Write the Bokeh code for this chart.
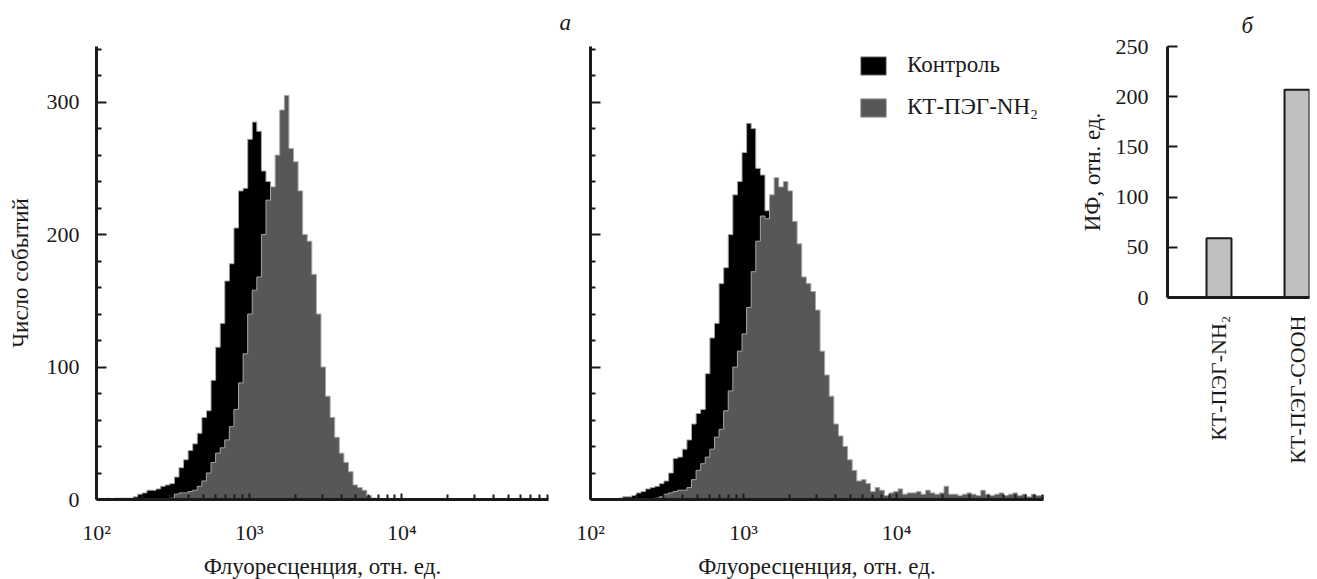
import math
from bokeh.plotting import figure
from bokeh.layouts import row
from bokeh.models import Range1d, FixedTicker, Legend, LegendItem
from bokeh.embed import file_html
from bokeh.resources import INLINE

# ---------------- data ----------------
LOG_START = 2.0      # first bin left edge, log10 units
LOG_STEP = 0.03      # bin width, log10 units

control_left = [0, 0, 1, 0, 1, 1, 1, 1, 2, 4,
                5, 7, 7, 8, 10, 11, 12, 17, 24, 30,
                37, 42, 50, 62, 67, 90, 115, 133, 165, 178,
                205, 233, 235, 272, 285, 278, 248, 240, 215, 190,
                160, 130, 100, 75, 55, 38, 25, 15, 8, 4,
                1, 0, 0, 0, 0, 0, 0, 0, 0, 0,
                0, 0]
nh2_left = [0, 0, 0, 0, 0, 0, 0, 0, 0, 0,
            0, 0, 0, 0, 0, 0, 1, 4, 5, 5,
            6, 7, 10, 14, 20, 28, 35, 39, 45, 55,
            68, 88, 110, 140, 158, 168, 200, 226, 236, 260,
            294, 305, 265, 255, 233, 200, 195, 170, 140, 100,
            78, 62, 47, 35, 28, 21, 11, 9, 7, 3,
            1, 0]
control_right = [0, 0, 0, 0, 0, 0, 1, 2, 2, 3,
                 5, 6, 8, 9, 10, 12, 14, 20, 31, 32,
                 38, 45, 57, 65, 68, 95, 122, 133, 163, 175,
                 200, 230, 240, 262, 284, 280, 250, 245, 218, 185,
                 160, 125, 100, 75, 55, 38, 25, 15, 8, 4,
                 1, 0, 0, 0, 0, 0, 0, 0, 0, 0]
nh2_right = [0, 0, 0, 0, 0, 0, 0, 0, 0, 0,
             0, 0, 0, 0, 1, 2, 4, 5, 6, 7,
             7, 9, 15, 22, 27, 32, 38, 47, 53, 67,
             82, 100, 112, 125, 145, 172, 195, 214, 212, 230,
             243, 236, 240, 233, 210, 193, 168, 163, 157, 143,
             112, 94, 78, 57, 48, 40, 30, 22, 14, 15,
             12, 6, 9, 7, 3, 5, 6, 8, 4, 5,
             5, 6, 4, 7, 5, 4, 5, 10, 4, 4,
             3, 4, 5, 4, 3, 7, 4, 3, 4, 5,
             3, 4, 5, 3, 4, 2, 4, 3, 3]

x_tick_values = [100, 1000, 10000]
x_tick_labels = ["10²", "10³", "10⁴"]
y_tick_values = [0, 100, 200, 300]
legend_labels = ["Контроль", "КТ-ПЭГ-NH₂"]

bar_categories = ["КТ-ПЭГ-NH₂", "КТ-ПЭГ-COOH"]
bar_values = [59, 207]
bar_ticks = [0, 50, 100, 150, 200, 250]

panel_letters = ["а", "б"]

# ---------------- style ----------------
FONT = "Liberation Serif"
FS_TICK = "22px"
FS_LAB = "23px"
AXC = "#1a1a1a"
BLACK = "#000000"
GRAY = "#575757"
EDGE = "#a6a6a6"

TOP = 46
BOTTOM = 80


def stairs(counts):
    edges = [10 ** (LOG_START + LOG_STEP * k) for k in range(len(counts) + 1)]
    xs, ys = [edges[0]], [0]
    for k, c in enumerate(counts):
        xs += [edges[k], edges[k + 1]]
        ys += [c, c]
    xs.append(edges[-1])
    ys.append(0)
    return xs, ys


def style_common(p):
    p.grid.visible = False
    p.outline_line_color = None
    p.background_fill_color = "white"
    p.border_fill_color = "white"
    for ax in (p.xaxis[0], p.yaxis[0]):
        ax.axis_line_color = AXC
        ax.axis_line_width = 3
        ax.major_tick_line_color = AXC
        ax.minor_tick_line_color = AXC
        ax.major_tick_line_width = 2
        ax.minor_tick_line_width = 2
        ax.major_tick_out = 0
        ax.minor_tick_out = 0
        ax.major_label_text_font = FONT
        ax.major_label_text_font_size = FS_TICK
        ax.major_label_text_color = AXC
        ax.axis_label_text_font = FONT
        ax.axis_label_text_font_size = FS_LAB
        ax.axis_label_text_font_style = "normal"
        ax.axis_label_text_color = AXC


def style_letter(p, letter, offset, standoff):
    p.title.text = letter
    p.title.align = "left"
    p.title.vertical_align = "top"
    p.title.offset = offset
    p.title.standoff = standoff
    p.title.text_font = FONT
    p.title.text_font_size = FS_LAB
    p.title.text_font_style = "italic"
    p.title.text_font_style = "italic"
    p.title.text_color = AXC


x_minor = [m * 10 ** e for e in (2, 3, 4) for m in range(2, 10)]
y_minor = [v for v in range(20, 341, 20) if v % 100]


def hist_fig(border_left, frame_w, border_right, ctrl, nh2, show_ylab):
    p = figure(x_axis_type="log", x_range=Range1d(100, 10 ** 4.96), y_range=Range1d(0, 342),
               frame_width=frame_w, frame_height=453,
               min_border_left=border_left, min_border_right=border_right,
               min_border_top=TOP, min_border_bottom=BOTTOM,
               toolbar_location=None, output_backend="svg")
    style_common(p)
    xs, ys = stairs(ctrl)
    r_ctrl = p.patch(xs, ys, fill_color=BLACK, line_color=EDGE, line_width=1)
    xs, ys = stairs(nh2)
    r_nh2 = p.patch(xs, ys, fill_color=GRAY, line_color=EDGE, line_width=1)

    xa = p.xaxis[0]
    xa.ticker = FixedTicker(ticks=x_tick_values, minor_ticks=x_minor)
    xa.major_label_overrides = dict(zip(x_tick_values, x_tick_labels))
    xa.major_tick_in = 6
    xa.minor_tick_in = 5
    xa.major_label_standoff = 20
    xa.axis_label = "Флуоресценция, отн. ед."
    xa.axis_label_standoff = 6

    ya = p.yaxis[0]
    ya.ticker = FixedTicker(ticks=y_tick_values, minor_ticks=y_minor)
    ya.major_tick_in = 10
    ya.minor_tick_in = 5
    ya.major_label_standoff = 17
    if show_ylab:
        ya.axis_label = "Число событий"
        ya.axis_label_standoff = 11
    else:
        ya.major_label_overrides = {v: "" for v in y_tick_values}
        ya.major_label_standoff = 0
    return p, r_ctrl, r_nh2


p1, _, _ = hist_fig(96, 452, 10, control_left, nh2_left, True)
p2, rc2, rn2 = hist_fig(32, 453, 15, control_right, nh2_right, False)

legend = Legend(items=[LegendItem(label=legend_labels[0], renderers=[rc2]),
                       LegendItem(label=legend_labels[1], renderers=[rn2])],
                location=(267, 379), padding=0, margin=0, spacing=16,
                glyph_width=32, glyph_height=23, label_height=23, label_standoff=18,
                label_text_font=FONT, label_text_font_size=FS_LAB, label_text_color=AXC,
                border_line_color=None, background_fill_alpha=0)
p2.add_layout(legend)
style_letter(p2, panel_letters[0], -31, 19)

# bar chart
p3 = figure(x_range=Range1d(-0.16, 1.66), y_range=Range1d(0, 250),
            frame_width=142, frame_height=251,
            min_border_left=109, min_border_right=3, min_border_top=TOP,
            min_border_bottom=TOP + 453 + BOTTOM - TOP - 251,
            toolbar_location=None, output_backend="svg")
style_common(p3)
bar_x = [k + 0.5 for k in range(len(bar_categories))]
p3.vbar(x=bar_x, top=bar_values, bottom=0, width=0.32, fill_color="#c0c0c0",
        line_color=AXC, line_width=2)
xa = p3.xaxis[0]
xa.ticker = FixedTicker(ticks=bar_x, minor_ticks=[])
xa.major_label_overrides = dict(zip(bar_x, bar_categories))
xa.major_label_orientation = math.pi / 2
xa.major_tick_in = 0
xa.minor_tick_in = 0
xa.major_label_standoff = 18
ya = p3.yaxis[0]
ya.ticker = FixedTicker(ticks=bar_ticks, minor_ticks=[])
ya.major_tick_in = 10
ya.minor_tick_in = 0
ya.major_label_standoff = 19
ya.axis_label = "ИФ, отн. ед."
ya.axis_label_standoff = 8
style_letter(p3, panel_letters[1], 74, 13)

layout = row(p1, p2, p3, spacing=0)
open("out.html", "w").write(file_html(layout, INLINE))
